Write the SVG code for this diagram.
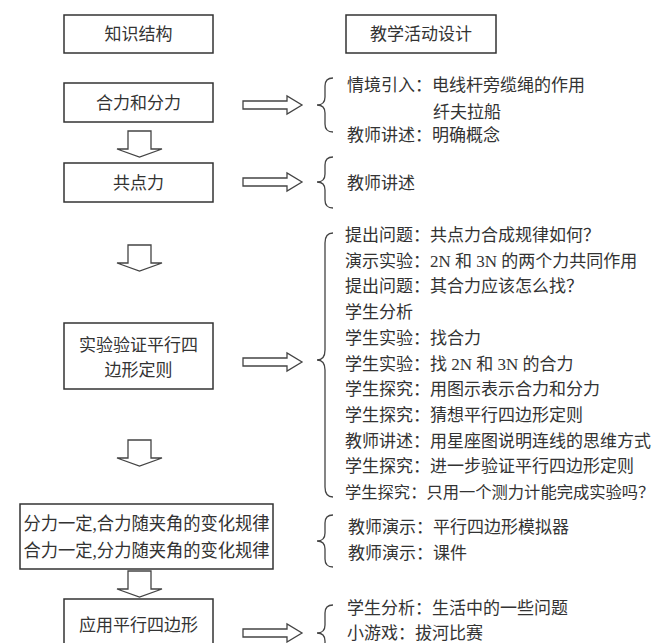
<svg xmlns="http://www.w3.org/2000/svg" width="663" height="643" viewBox="0 0 663 643">
<style>
.box{fill:#fff;stroke:#333;stroke-width:1.5}
.t{font-family:"Liberation Serif","Noto Sans CJK SC",serif;font-size:17px;fill:#333}
.c{text-anchor:middle}
.arr{fill:#fff;stroke:#444;stroke-width:1.3;stroke-linejoin:miter}
.br{fill:none;stroke:#444;stroke-width:1.3}
</style>
<defs>
<path id="ra" d="M0,-4 H44 V-9 L59,0 L44,9 V4 H0 Z"/>
<path id="da" d="M-11.5,0 V18 H-22.5 L0,26 L22.5,18 H11.5 V0 Z"/>
</defs>
<rect width="663" height="643" fill="#fff"/>

<g id="n-header-left">
<rect class="box" x="64" y="15" width="149" height="38"/>
<text class="t c" x="138.5" y="40">知识结构</text>
</g>
<g id="n-header-right">
<rect class="box" x="346" y="15" width="150" height="38"/>
<text class="t c" x="421" y="40">教学活动设计</text>
</g>

<g id="n-hefen">
<rect class="box" x="64" y="83" width="149" height="39"/>
<text class="t c" x="138.5" y="108.5">合力和分力</text>
</g>
<g id="n-gongdian">
<rect class="box" x="64" y="163" width="149" height="39"/>
<text class="t c" x="138.5" y="188.5">共点力</text>
</g>
<g id="n-shiyan">
<rect class="box" x="64" y="323" width="149" height="66"/>
<text class="t c" x="138.5" y="351">实验验证平行四</text>
<text class="t c" x="138.5" y="376">边形定则</text>
</g>
<g id="n-guilv">
<rect class="box" x="20" y="504" width="253" height="65"/>
<text class="t c" x="146.5" y="529.5" style="font-size:18px" textLength="246" lengthAdjust="spacingAndGlyphs">分力一定,合力随夹角的变化规律</text>
<text class="t c" x="146.5" y="556.5" style="font-size:18px" textLength="246" lengthAdjust="spacingAndGlyphs">合力一定,分力随夹角的变化规律</text>
</g>
<g id="n-yingyong">
<rect class="box" x="64" y="599" width="149" height="80"/>
<text class="t c" x="138.5" y="631">应用平行四边形</text>
</g>

<g id="connectors">
<use class="arr" href="#da" x="139.5" y="131"/>
<use class="arr" href="#da" x="139.5" y="245"/>
<use class="arr" href="#da" x="139.5" y="440"/>
<use class="arr" href="#da" x="139.5" y="571"/>
<use class="arr" href="#ra" x="243" y="105"/>
<use class="arr" href="#ra" x="243" y="182"/>
<use class="arr" href="#ra" x="243" y="362"/>
<use class="arr" href="#ra" x="243" y="633"/>
<path class="br" d="M333,78 Q325,78 325,86 V97 Q325,105 317,105 Q325,105 325,113 V124 Q325,132 333,132"/>
<path class="br" d="M333,157 Q325,157 325,165 V174 Q325,182 317,182 Q325,182 325,190 V200 Q325,208 333,208"/>
<path class="br" d="M333,233 Q325,233 325,243 V350 Q325,360 317,360 Q325,360 325,370 V487 Q325,497 333,497"/>
<path class="br" d="M333,515 Q325,515 325,523 V533 Q325,541 317,541 Q325,541 325,549 V559 Q325,567 333,567"/>
<path class="br" d="M333,605 Q325,605 325,613 V625 Q325,633 317,633 Q325,633 325,641 V653 Q325,661 333,661"/>
</g>

<g id="n-act1">
<text class="t" x="347" y="91">情境引入：电线杆旁缆绳的作用</text>
<text class="t" x="433" y="118">纤夫拉船</text>
<text class="t" x="347" y="141">教师讲述：明确概念</text>
</g>
<g id="n-act2">
<text class="t" x="347" y="189">教师讲述</text>
</g>
<g id="n-act3">
<text class="t" x="345" y="241">提出问题：共点力合成规律如何？</text>
<text class="t" x="345" y="266.7">演示实验：2N 和 3N 的两个力共同作用</text>
<text class="t" x="345" y="292.4">提出问题：其合力应该怎么找？</text>
<text class="t" x="345" y="318.1">学生分析</text>
<text class="t" x="345" y="343.8">学生实验：找合力</text>
<text class="t" x="345" y="369.5">学生实验：找 2N 和 3N 的合力</text>
<text class="t" x="345" y="395.2">学生探究：用图示表示合力和分力</text>
<text class="t" x="345" y="420.9">学生探究：猜想平行四边形定则</text>
<text class="t" x="345" y="446.6">教师讲述：用星座图说明连线的思维方式</text>
<text class="t" x="345" y="472.3">学生探究：进一步验证平行四边形定则</text>
<text class="t" x="345" y="498" style="font-size:16.3px">学生探究：只用一个测力计能完成实验吗？</text>
</g>
<g id="n-act4">
<text class="t" x="348" y="533">教师演示：平行四边形模拟器</text>
<text class="t" x="348" y="559">教师演示：课件</text>
</g>
<g id="n-act5">
<text class="t" x="347" y="614">学生分析：生活中的一些问题</text>
<text class="t" x="347" y="639">小游戏：拔河比赛</text>
</g>
</svg>
